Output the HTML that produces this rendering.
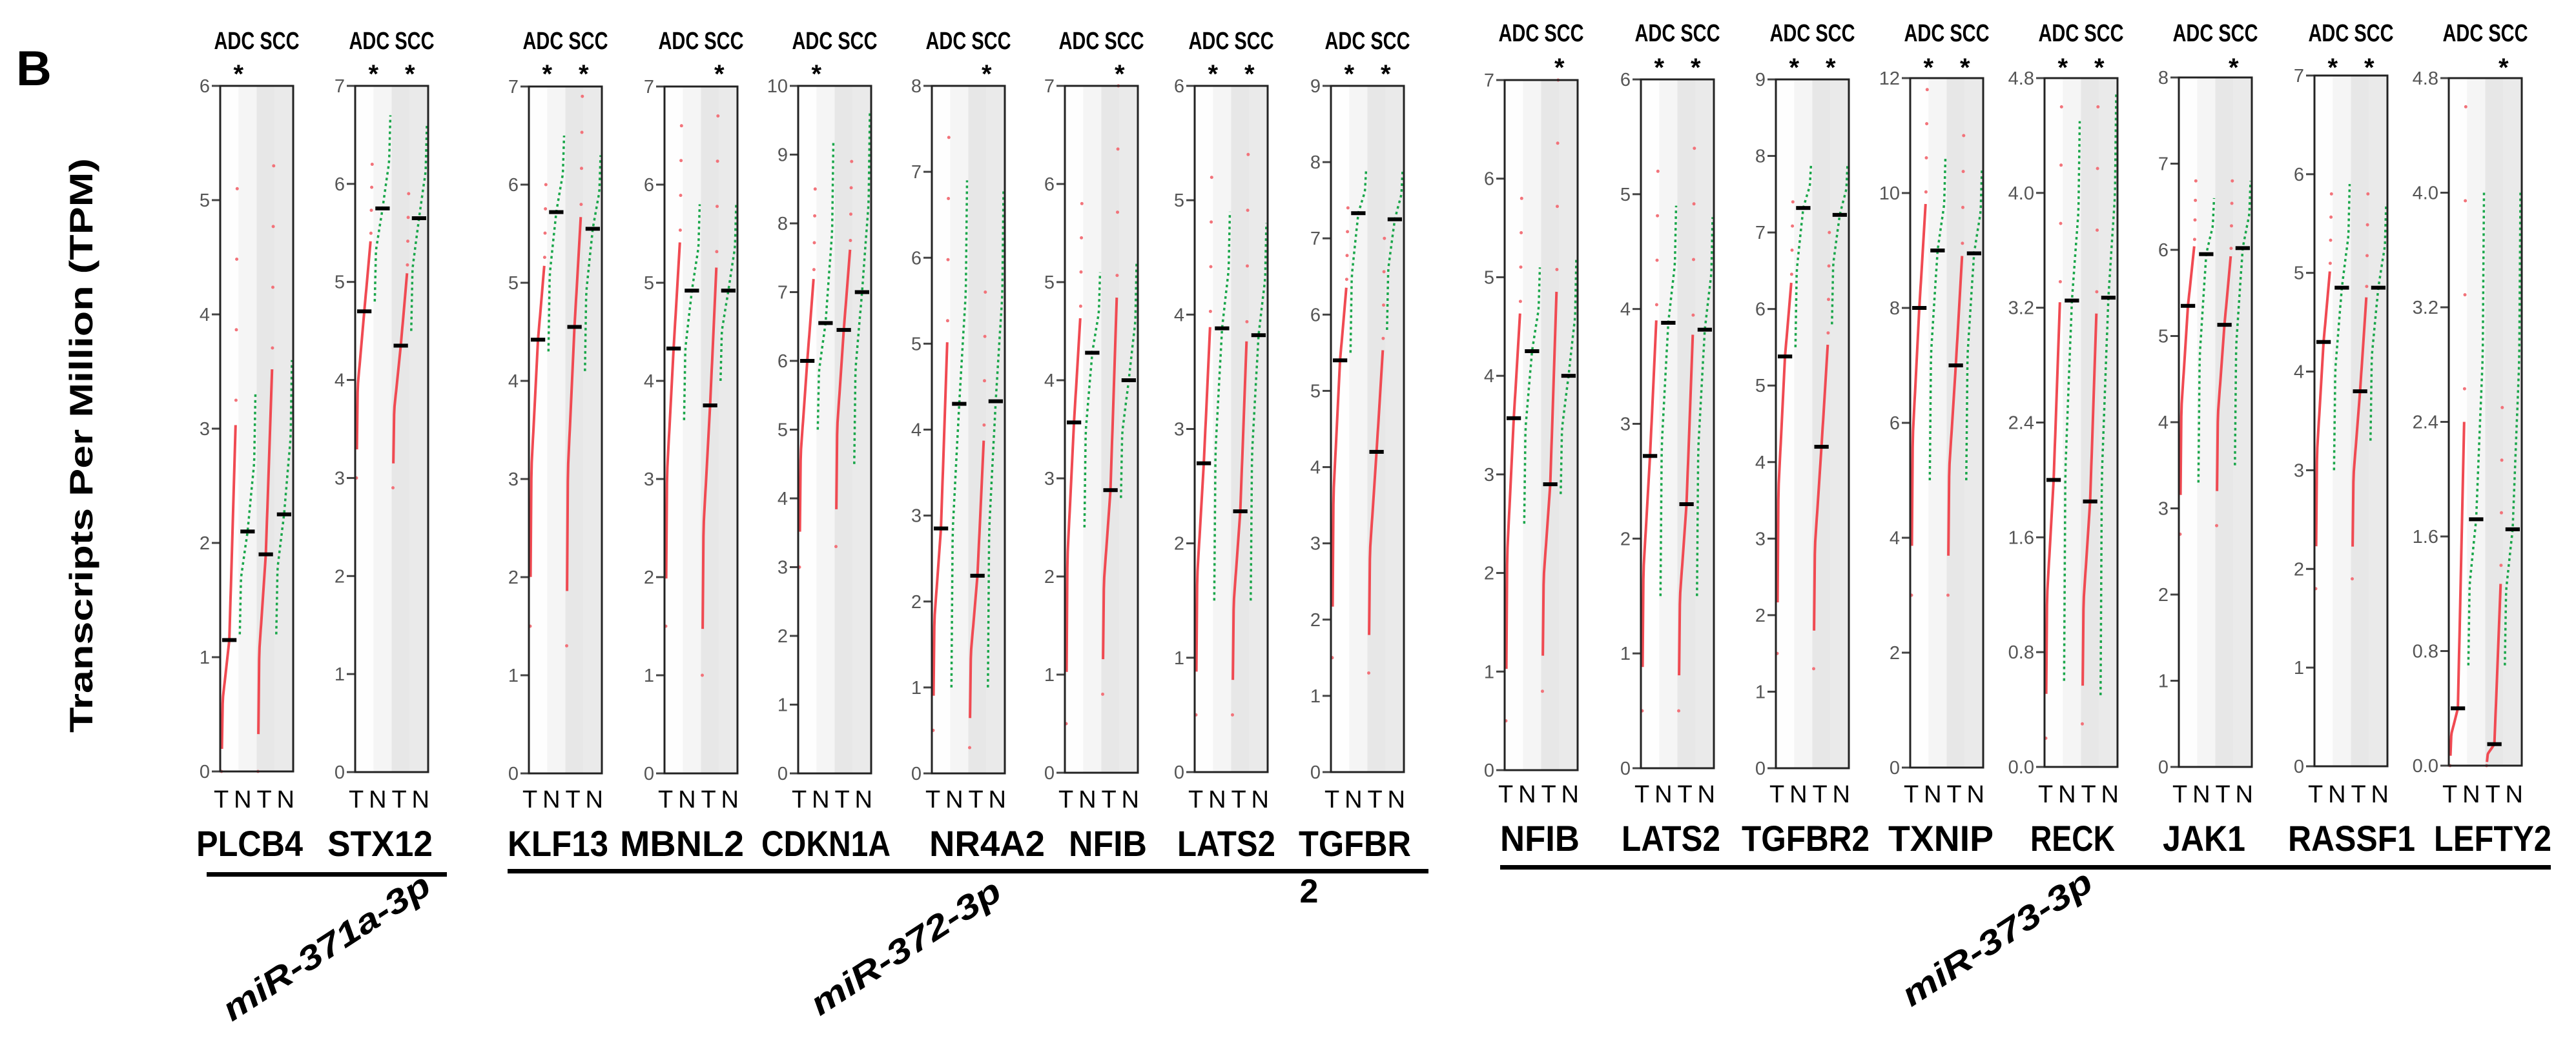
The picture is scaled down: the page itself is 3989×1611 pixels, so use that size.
<!DOCTYPE html>
<html><head><meta charset="utf-8"><style>
html,body{margin:0;padding:0;background:#fff;}
svg{display:block;font-family:"Liberation Sans",sans-serif;}
</style></head><body>
<svg id="fig" width="3989" height="1611" viewBox="0 0 3989 1611" xmlns="http://www.w3.org/2000/svg">
<text x="25" y="132" font-size="76" font-weight="bold">B</text>
<text transform="translate(143,690) rotate(-90)" text-anchor="middle" font-size="50" font-weight="bold" textLength="890" lengthAdjust="spacingAndGlyphs">Transcripts Per Million (TPM)</text>
<g id="panels"></g>
<rect x="320" y="1351" width="372" height="7" fill="#000"/>
<rect x="786" y="1346" width="1426" height="7" fill="#000"/>
<rect x="2323" y="1340" width="1627" height="7" fill="#000"/>
<text x="2027" y="1398" text-anchor="middle" font-size="52" font-weight="bold">2</text>
<text transform="translate(515,1482) rotate(-33)" text-anchor="middle" font-size="52" font-weight="bold" font-style="italic" textLength="372" lengthAdjust="spacingAndGlyphs">miR-371a-3p</text>
<text transform="translate(1412,1482) rotate(-33)" text-anchor="middle" font-size="52" font-weight="bold" font-style="italic" textLength="340" lengthAdjust="spacingAndGlyphs">miR-372-3p</text>
<text transform="translate(3102,1468) rotate(-33)" text-anchor="middle" font-size="52" font-weight="bold" font-style="italic" textLength="340" lengthAdjust="spacingAndGlyphs">miR-373-3p</text>
</svg>
<script>
// ---- data ----
const genes = ["PLCB4","STX12","KLF13","MBNL2","CDKN1A","NR4A2","NFIB","LATS2","TGFBR","NFIB","LATS2","TGFBR2","TXNIP","RECK","JAK1","RASSF1","LEFTY2"];
const yMax  = [6,7,7,7,10,8,7,6,9,7,6,9,12,4.8,8,7,4.8];
const yStep = [1,1,1,1,1,1,1,1,1,1,1,1,2,0.8,1,1,0.8];
// [low, median, high] per group
const tumorAdc  = [[0,1.15,5.1],[3.0,4.7,6.2],[1.5,4.42,6.0],[1.5,4.33,6.6],[3.0,6.0,8.5],[0.5,2.85,7.4],[0.5,3.57,5.8],[0.5,2.7,5.2],[1.5,5.4,7.4],[0.5,3.57,5.8],[0.5,2.72,5.2],[1.5,5.38,7.4],[3.0,8.0,11.8],[0.2,2.0,4.6],[2.7,5.35,6.8],[1.8,4.3,5.8],[0,0.4,4.6]];
const normalAdc = [[1.2,2.1,3.3],[4.8,5.75,6.7],[4.3,5.72,6.5],[3.6,4.92,5.8],[5.0,6.55,9.2],[1.0,4.3,6.9],[2.5,4.28,5.1],[1.5,3.88,4.9],[5.5,7.33,7.9],[2.5,4.25,5.1],[1.5,3.88,4.9],[5.5,7.32,7.9],[5.0,9.0,10.6],[0.6,3.25,4.5],[3.3,5.95,6.6],[3.0,4.85,5.9],[0.7,1.72,4.0]];
const tumorScc  = [[0,1.9,5.3],[2.9,4.35,5.9],[1.3,4.55,6.9],[1.0,3.75,6.7],[3.3,6.45,8.9],[0.3,2.3,5.6],[0.8,2.88,7.0],[0.5,2.28,5.4],[1.3,4.2,7.0],[0.8,2.9,7.0],[0.5,2.3,5.4],[1.3,4.2,7.0],[3.0,7.0,11.0],[0.3,1.85,4.6],[2.8,5.13,6.8],[1.9,3.8,5.8],[0,0.15,2.5]];
const normalScc = [[1.2,2.25,3.6],[4.5,5.65,6.6],[4.1,5.55,6.3],[4.0,4.92,5.8],[4.5,7.0,9.6],[1.0,4.33,6.8],[2.8,4.0,5.2],[1.5,3.82,4.8],[5.8,7.25,7.9],[2.8,4.0,5.2],[1.5,3.82,4.8],[5.8,7.23,7.9],[5.0,8.95,10.4],[0.5,3.27,4.7],[3.5,6.02,6.8],[3.3,4.85,5.7],[0.7,1.65,4.0]];
const starAdc = [1,1,1,0,1,0,0,1,1,0,1,1,1,1,0,1,0];
const starScc = [0,1,1,1,0,1,1,1,1,1,1,1,1,1,1,1,1];
// ---- layout ----
const panelLeft = [341,550,819,1029,1236,1443,1649,1850,2061,2330,2541,2750,2958,3166,3374,3584,3792];
const panelTop  = [133,133,134,134,133,133,133,133,133,124,123,123,121,121,120,117,121];
const panelBot  = [1195,1196,1198,1198,1198,1198,1197,1196,1196,1193,1190,1190,1189,1188,1188,1187,1186];
const nameStart = [304,507,786,960,1179,1439,1655,1823,2011,2323,2511,2697,2924,3144,3349,3543,3769];
const nameWidth = [165,163,156,192,200,179,121,152,174,123,153,198,163,131,128,197,182];
const PW = 113;
const NS = "http://www.w3.org/2000/svg";
const root = document.getElementById('panels');
function mk(tag, attrs, parent){const e=document.createElementNS(NS,tag);for(const k in attrs)e.setAttribute(k,attrs[k]);(parent||root).appendChild(e);return e;}
function curveVal(g,t){
  const [lo,md,hi]=g;
  const kt=[0,0.08,0.5,0.92,1], kv=[lo,lo+0.55*(md-lo),md,md+0.5*(hi-md),hi];
  for(let i=0;i<4;i++){ if(t<=kt[i+1]){const f=(t-kt[i])/(kt[i+1]-kt[i]);return kv[i]+f*(kv[i+1]-kv[i]);} }
  return hi;
}
genes.forEach((gene,i)=>{
  const x0=panelLeft[i], top=panelTop[i], bot=panelBot[i], right=i<9;
  const y=v=>bot-(v/yMax[i])*(bot-top);
  const cw=PW/4;
  const g=mk('g',{});
  
  
  const bgs=[['#fefefe',0],['#f5f5f5',1],['#e7e7e7',2],['#eaeaea',3]];
  bgs.forEach(([c,k])=>{const r=mk('rect',{x:x0+k*cw,y:top,width:cw,height:bot-top,fill:c},g);
    
    });
  const n=Math.round(yMax[i]/yStep[i]);
  for(let k=0;k<=n;k++){
    const v=k*yStep[i], yy=y(v);
    const tk=mk('line',{x1:x0-13,x2:x0,y1:yy,y2:yy,stroke:'#444','stroke-width':3},g);
    
    
    const lb=mk('text',{x:x0-16,y:yy+10,'text-anchor':'end','font-size':29,fill:'#555'},g);
    
    
    lb.textContent=(yStep[i]%1?v.toFixed(1):String(Math.round(v)));
  }
  const groups=[[tumorAdc[i],0,'t'],[normalAdc[i],1,'n'],[tumorScc[i],2,'t'],[normalScc[i],3,'n']];
  groups.forEach(([gr,k,type])=>{
    const cx=x0+k*cw;
    let pts=[];
    for(let s=0;s<=40;s++){const t=s/40;pts.push((cx+2+t*(cw-4)).toFixed(1)+','+y(curveVal(gr,t)).toFixed(1));}
    if(type==='t'){
      const core=pts.slice(1,37).join(' ');
      const pl=mk('polyline',{points:core,fill:'none',stroke:'#f04a52','stroke-width':4},g);
      
      
      [0,37,38,39,40].forEach(s=>{const [px,py]=pts[s].split(',');
        const d=mk('circle',{cx:px,cy:py,r:2.5,fill:'#f2737a'},g);
        
        });
    } else {
      const pl=mk('polyline',{points:pts.join(' '),fill:'none',stroke:'#1aa64a','stroke-width':3.5,'stroke-dasharray':'4 5'},g);
      
      
    }
    const md=mk('rect',{x:cx+3,y:y(gr[1])-3,width:cw-6,height:6,fill:'#000'},g);
    
    
  });
  const fr=mk('rect',{x:x0,y:top,width:PW,height:bot-top,fill:'none',stroke:'#222','stroke-width':3},g);
  
  
  const hy=right?76:64, sy=right?128:118;
  const h=mk('text',{x:x0+PW/2,y:hy,'text-anchor':'middle','font-size':38,'font-weight':'bold',textLength:132,lengthAdjust:'spacingAndGlyphs'},g);
  
  
  h.textContent='ADC SCC';
  if(starAdc[i]){const s=mk('text',{x:x0+cw,y:sy,'text-anchor':'middle','font-size':40,'font-weight':'bold'},g);
    
    
    s.textContent='*';}
  if(starScc[i]){const s=mk('text',{x:x0+3*cw,y:sy,'text-anchor':'middle','font-size':40,'font-weight':'bold'},g);
    
    
    s.textContent='*';}
  const ty=right?1251:1243, ny=right?1326:1318;
  const tn=mk('text',{x:x0+PW/2-4,y:ty,'text-anchor':'middle','font-size':38,textLength:125,lengthAdjust:'spacing'},g);
  
  
  tn.textContent='TNTN';
  const nm=mk('text',{x:nameStart[i],y:ny,'font-size':56,'font-weight':'bold',textLength:nameWidth[i],lengthAdjust:'spacingAndGlyphs'},g);
  
  
  nm.textContent=gene;
});
</script>
</body></html>
